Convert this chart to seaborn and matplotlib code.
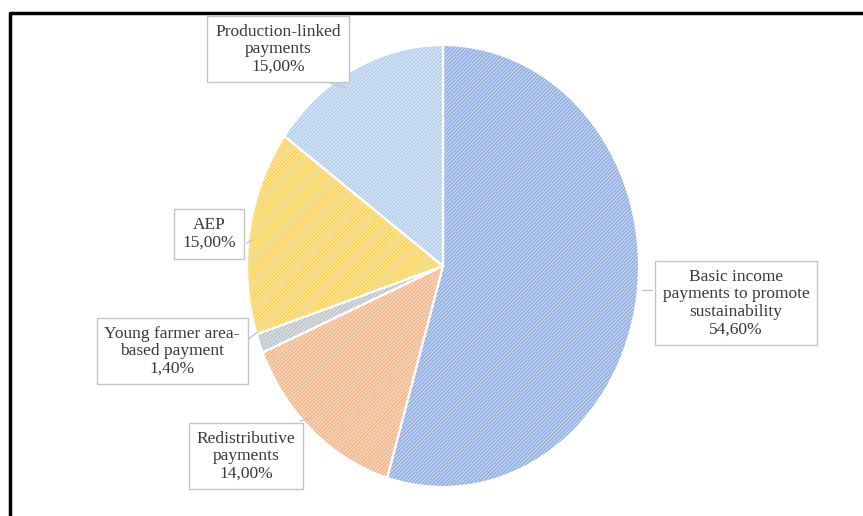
import matplotlib
matplotlib.use("Agg")
import matplotlib.pyplot as plt
import seaborn as sns

# Direct payment envelope shares (%)
categories = [
    "Basic income payments to promote sustainability",
    "Redistributive payments",
    "Young farmer area-based payment",
    "AEP",
    "Production-linked payments",
]
shares = [54.6, 14.0, 1.4, 15.0, 15.0]
label_lines = [
    "Basic income\npayments to promote\nsustainability",
    "Redistributive\npayments",
    "Young farmer area-\nbased payment",
    "AEP",
    "Production-linked\npayments",
]
palette = ["#95b1e3", "#f5b98e", "#bfc6cc", "#fdd460", "#b6d0ee"]

sns.set_theme(style="white")
plt.rcParams["font.family"] = ["Liberation Serif", "DejaVu Serif"]
plt.rcParams["hatch.linewidth"] = 0.35

W, H = 863, 516
fig = plt.figure(figsize=(W / 100, H / 100), dpi=100)
fig.patch.set_facecolor("white")

# pie axes (slightly taller than wide)
cx, cy, rx, ry = 443, 266, 196, 221
ax_pie = fig.add_axes([(cx - rx) / W, 1 - (cy + ry) / H, 2 * rx / W, 2 * ry / H])
wedges, _ = ax_pie.pie(
    shares,
    colors=sns.color_palette(palette),
    startangle=90,
    counterclock=False,
    radius=1.0,
    wedgeprops=dict(edgecolor="white", linewidth=1.6, hatch="/////////"),
)
ax_pie.set_aspect("auto")
ax_pie.set_xlim(-1, 1)
ax_pie.set_ylim(-1, 1)
ax_pie.axis("off")

# overlay in pixel coordinates for frame, callouts and labels
ax = fig.add_axes([0, 0, 1, 1], zorder=3)
ax.set_xlim(0, W)
ax.set_ylim(H, 0)
ax.axis("off")
ax.patch.set_alpha(0)

# chart frame (top and left edges)
ax.plot([10, 10, W + 5], [H + 5, 13, 13], color="black", lw=2.5, solid_capstyle="butt")

label_pos = [(736, 303), (246, 456), (172, 351), (209, 234), (278, 49)]
leaders = [
    [(652, 290), (642, 290)],
    [(300, 421), (312, 418)],
    [(247, 340), (258, 332)],
    [(247, 243), (252, 240)],
    [(330, 83), (346, 88)],
]

for text, val, (x, y), seg in zip(label_lines, shares, label_pos, leaders):
    pct = f"{val:.2f}".replace(".", ",") + "%"
    ax.text(
        x, y, f"{text}\n{pct}",
        ha="center", va="center", fontsize=12.5, color="#3a3a3a",
        linespacing=1.12,
        bbox=dict(boxstyle="square,pad=0.45", facecolor="white",
                  edgecolor="#c4c4c4", linewidth=1.0),
    )
    (x0, y0), (x1, y1) = seg
    ax.plot([x0, x1], [y0, y1], color="#c4c4c4", lw=1.0)

fig.savefig("out.png", dpi=100, facecolor="white")
